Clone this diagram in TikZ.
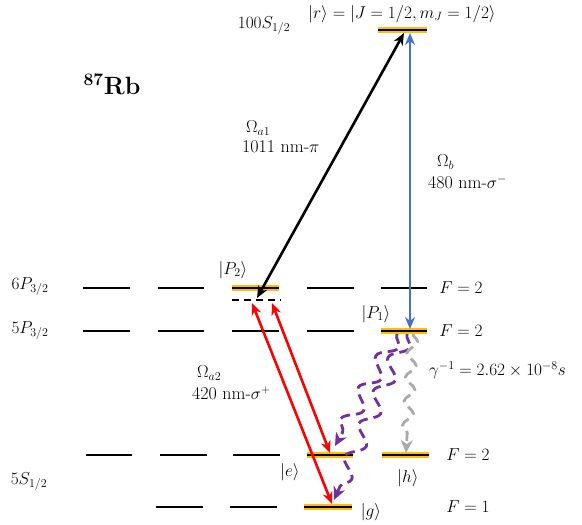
\documentclass[tikz,border=0pt]{standalone}
\usetikzlibrary{arrows.meta,decorations.pathmorphing}

\begin{document}
\begin{tikzpicture}[x=1pt,y=-1pt,font=\fontsize{18}{21}\selectfont]
  \definecolor{hlyellow}{RGB}{255,192,0}
  \definecolor{bluecol}{RGB}{68,114,196}
  \definecolor{purplecol}{RGB}{112,48,160}
  \definecolor{decaygray}{RGB}{170,170,170}
  \definecolor{laserred}{RGB}{255,0,0}

  \tikzset{
    lvline/.style={draw=black,line width=2.2pt},
    hlline/.style={draw=hlyellow,line width=6.5pt},
    laser/.style={{Stealth[length=12pt,width=10pt]}-{Stealth[length=12pt,width=10pt]},line width=2.6pt},
    decayarrow/.style={-{Stealth[length=13pt,width=12pt,inset=4pt]},line width=2.8pt,
      dash pattern=on 10pt off 6pt,decorate},
    lbl/.style={inner sep=1pt}
  }

  \useasboundingbox (0,0) rectangle (582,525);

  % ---------------- highlighted states ----------------
  \draw[hlline] (378,30) -- (427,30);   % |r>
  \draw[hlline] (232,288) -- (279,288); % |P2>
  \draw[hlline] (381,331) -- (427,331); % |P1>
  \draw[hlline] (307,455) -- (353,455); % |e>
  \draw[hlline] (382,455) -- (429,455); % |h>
  \draw[hlline] (304,507) -- (352,507); % |g>

  % ---------------- Zeeman sublevels ----------------
  \draw[lvline] (378,30) -- (427,30);
  \foreach \xa/\xb in {83/130,158/204,232/279,307/354,381/427}{
    \draw[lvline] (\xa,288) -- (\xb,288);
    \draw[lvline] (\xa,331) -- (\xb,331);
  }
  \foreach \xa/\xb in {86/132,160/207,233/280,307/353,382/429}
    \draw[lvline] (\xa,455) -- (\xb,455);
  \foreach \xa/\xb in {156/203,230/277,304/352}
    \draw[lvline] (\xa,507) -- (\xb,507);

  % intermediate (detuned) level
  \draw[line width=1.4pt,dash pattern=on 7pt off 5pt] (232,300) -- (281,300);

  % ---------------- end points ----------------
  \coordinate (rA) at (404,33);
  \coordinate (rB) at (410,33);
  \coordinate (p2A) at (257,298);
  \coordinate (p2B) at (252,303);
  \coordinate (p2C) at (272,303);
  \coordinate (p1A) at (410,329);
  \coordinate (p1B) at (397,334);
  \coordinate (p1C) at (407,334);
  \coordinate (p1D) at (413,334);
  \coordinate (eA) at (330,453);
  \coordinate (eB) at (335,446);
  \coordinate (gA) at (332,504);
  \coordinate (gB) at (334,500);
  \coordinate (hA) at (406,453);

  % ---------------- laser couplings ----------------
  \draw[laser,black] (p2A) -- (rA);
  \draw[laser,bluecol] (rB) -- (p1A);
  \draw[laser,laserred] (p2B) -- (gA);
  \draw[laser,laserred] (p2C) -- (eA);

  % ---------------- spontaneous decay ----------------
  \draw[decayarrow,purplecol,decoration={snake,amplitude=8pt,segment length=36pt,post length=12pt}] (p1B) -- (eB);
  \draw[decayarrow,purplecol,decoration={snake,amplitude=8pt,segment length=36pt,post length=12pt}] (p1C) -- (gB);
  \draw[decayarrow,decaygray,decoration={snake,amplitude=5pt,segment length=24pt,post length=10pt}] (p1D) -- (hA);

  % ---------------- labels ----------------
  \node[lbl,font=\fontsize{25}{29}\selectfont\bfseries] (lblRb) at (112,84) {\textsuperscript{87}Rb};
  \node[lbl] (lblRyd) at (264,26) {$100S_{1/2}$};
  \node[lbl] (ketR) at (402,14) {$|r\rangle = |J=1/2, m_J=1/2\rangle$};

  \node[lbl,anchor=west] (lblOa1) at (245,128) {$\Omega_{a1}$};
  \node[lbl,anchor=west] (lblWa1) at (241,147) {1011 nm-$\pi$};
  \node[lbl,anchor=west] (lblOb) at (436,162) {$\Omega_b$};
  \node[lbl,anchor=west] (lblWb) at (427,182) {480 nm-$\sigma^-$};
  \node[lbl,anchor=west] (lblOa2) at (196,373) {$\Omega_{a2}$};
  \node[lbl,anchor=west] (lblWa2) at (191,393) {420 nm-$\sigma^+$};
  \node[lbl,anchor=west] (lblGam) at (428,370) {$\gamma^{-1} = 2.62\times10^{-8}s$};

  \node[lbl] (ketP2) at (233,270) {$|P_2\rangle$};
  \node[lbl] (ketP1) at (376,314) {$|P_1\rangle$};
  \node[lbl] (ketE) at (290,472) {$|e\rangle$};
  \node[lbl] (ketH) at (408,478) {$|h\rangle$};
  \node[lbl] (ketG) at (371,512) {$|g\rangle$};

  \node[lbl] (lblF6P) at (461,288) {$F=2$};
  \node[lbl] (lblF5P) at (461,331) {$F=2$};
  \node[lbl] (lblF5S2) at (468,455) {$F=2$};
  \node[lbl] (lblF5S1) at (468,507) {$F=1$};

  \node[lbl] (lbl6P) at (30,287) {$6P_{3/2}$};
  \node[lbl] (lbl5P) at (30,331) {$5P_{3/2}$};
  \node[lbl] (lbl5S) at (29,482) {$5S_{1/2}$};
\end{tikzpicture}
\end{document}
